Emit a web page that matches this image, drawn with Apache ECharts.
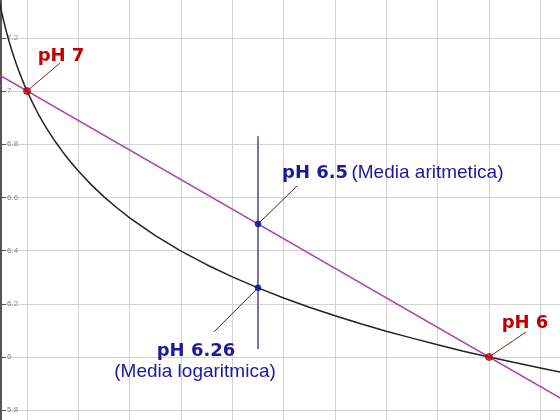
<!DOCTYPE html>
<html>
<head>
<meta charset="utf-8">
<script src="https://cdn.jsdelivr.net/npm/echarts@6/dist/echarts.min.js"></script>
<style>html,body{margin:0;padding:0;background:#fff}#c{width:560px;height:420px}</style>
</head>
<body>
<div id="c"></div>
<script>
// [H+] in units of 1e-7 mol/L  vs  pH
const curveX  = [0.42, 0.46, 0.5, 0.55, 0.6, 0.65, 0.7, 0.75, 0.8, 0.85, 0.9, 0.95, 1, 1.1, 1.2, 1.3, 1.4, 1.55, 1.7, 1.85, 2, 2.25, 2.5, 2.75, 3, 3.5, 4, 4.5, 5, 5.5, 6, 6.5, 7, 7.5, 8, 8.5, 9, 9.5, 10, 10.5, 11, 11.5, 12];
const curvePH = [7.377, 7.337, 7.301, 7.260, 7.222, 7.187, 7.155, 7.125, 7.097, 7.071, 7.046, 7.022, 7.0, 6.959, 6.921, 6.886, 6.854, 6.810, 6.770, 6.733, 6.699, 6.648, 6.602, 6.561, 6.523, 6.456, 6.398, 6.347, 6.301, 6.260, 6.222, 6.187, 6.155, 6.125, 6.097, 6.071, 6.046, 6.022, 6.0, 5.979, 5.959, 5.939, 5.921];
const chordX  = [0.4, 12];
const chordPH = [7.0667, 5.7778];
const meanX   = [5.5, 5.5];
const meanPH  = [6.83, 6.03];
const endX    = [1, 10];
const endPH   = [7, 6];
const midX    = [5.5, 5.5];
const midPH   = [6.5, 6.26];
const annX    = [1, 5.5, 5.5, 10];
const annY    = [7, 6.5, 6.26, 6];
const annLabels = ['pH 7', 'pH 6.5', 'pH 6.26', 'pH 6'];
const annNotes  = ['', '(Media aritmetica)', '(Media logaritmica)', ''];
const yTicks  = [5.6, 7.4, 0.2]; // min, max, step

const RED = '#c00000', BLUE = '#1a1aa0';
const BOLD = 'bold 18px "DejaVu Sans", Verdana, sans-serif';
const NORM = '19px "Liberation Sans", Arial, sans-serif';
const annStyle = [
  {lead: [33, -28], leadColor: '#802020', color: RED, mode: 'single', t: [34, -35]},
  {lead: [39, -38], leadColor: '#28284a', color: BLUE, mode: 'inline', t: [24, -51]},
  {lead: [-44, 44], leadColor: '#28284a', color: BLUE, mode: 'stack', t: [-62, 63], n: [-63, 84]},
  {lead: [37, -25], leadColor: '#802020', color: RED, mode: 'single', t: [36, -34]}
];

const chart = echarts.init(document.getElementById('c'), null, {renderer: 'canvas'});
const zip = (a, b) => a.map((v, i) => [v, b[i]]);

chart.setOption({
  animation: false,
  backgroundColor: '#fff',
  grid: {left: -24.33, right: -31.7, top: -15.4, bottom: -43.4, containLabel: false, outerBoundsMode: 'none'},
  xAxis: {
    type: 'value', min: 0, max: 12, interval: 1,
    axisLine: {show: false}, axisTick: {show: false}, axisLabel: {show: false},
    splitLine: {show: true, lineStyle: {color: '#d2d2d2', width: 1}}
  },
  yAxis: {
    type: 'value', min: yTicks[0], max: yTicks[1], interval: yTicks[2],
    offset: -25.33,
    axisLine: {show: true, onZero: false, lineStyle: {color: '#555', width: 2}},
    axisTick: {show: true, inside: true, length: 5, lineStyle: {color: '#555', width: 1}},
    axisLabel: {show: true, inside: true, margin: 6, fontSize: 8, color: '#888', fontFamily: 'Arial, sans-serif'},
    splitLine: {show: true, lineStyle: {color: '#d2d2d2', width: 1}}
  },
  series: [
    {type: 'line', data: zip(curveX, curvePH), smooth: false, showSymbol: false,
     lineStyle: {color: '#222', width: 1.5}, silent: true, z: 3},
    {type: 'line', data: zip(chordX, chordPH), showSymbol: false,
     lineStyle: {color: '#b23cb2', width: 1.5}, silent: true, z: 3},
    {type: 'line', data: zip(meanX, meanPH), showSymbol: false,
     lineStyle: {color: '#7878a8', width: 2}, silent: true, z: 2},
    {type: 'custom', data: annX.map((x, i) => [x, annY[i], i]), silent: true, z: 4,
     encode: {x: 0, y: 1},
     renderItem: function (params, api) {
       const i = params.dataIndex;
       const p = api.coord([api.value(0), api.value(1)]);
       const s = annStyle[i];
       const ch = [{type: 'line', shape: {x1: p[0], y1: p[1], x2: p[0] + s.lead[0], y2: p[1] + s.lead[1]},
                    style: {stroke: s.leadColor, lineWidth: 1}}];
       if (s.mode === 'single') {
         ch.push({type: 'text', x: p[0] + s.t[0], y: p[1] + s.t[1],
                  style: {text: annLabels[i], fill: s.color, font: BOLD, align: 'center', verticalAlign: 'middle'}});
       } else if (s.mode === 'inline') {
         ch.push({type: 'text', x: p[0] + s.t[0], y: p[1] + s.t[1],
                  style: {text: '{b|' + annLabels[i] + '} {n|' + annNotes[i] + '}', align: 'left', verticalAlign: 'middle',
                          rich: {b: {font: BOLD, fill: s.color, color: s.color}, n: {font: NORM, fill: s.color, color: s.color}}}});
       } else {
         ch.push({type: 'text', x: p[0] + s.t[0], y: p[1] + s.t[1],
                  style: {text: annLabels[i], fill: s.color, font: BOLD, align: 'center', verticalAlign: 'middle'}});
         ch.push({type: 'text', x: p[0] + s.n[0], y: p[1] + s.n[1],
                  style: {text: annNotes[i], fill: s.color, font: NORM, align: 'center', verticalAlign: 'middle'}});
       }
       return {type: 'group', children: ch};
     }},
    {type: 'scatter', data: zip(endX, endPH), symbolSize: 7, silent: true, z: 5,
     itemStyle: {color: '#d00000', borderColor: '#800000', borderWidth: 0.8}},
    {type: 'scatter', data: zip(midX, midPH), symbolSize: 6, silent: true, z: 5,
     itemStyle: {color: '#0010b0', borderColor: '#000060', borderWidth: 0.6}}
  ]
});
</script>
</body>
</html>
